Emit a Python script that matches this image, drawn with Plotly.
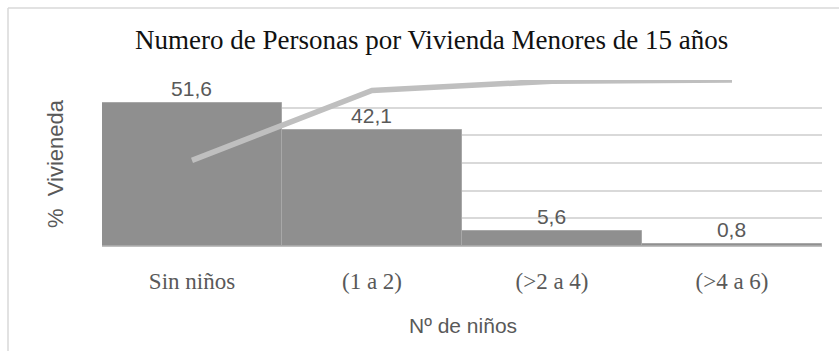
import plotly.graph_objects as go

# Households by number of children under 15
categories = ["Sin niños", "(1 a 2)", "(>2 a 4)", "(>4 a 6)"]
pct_viviendas = [51.6, 42.1, 5.6, 0.8]
pct_acumulado = [51.6, 93.7, 99.3, 100.0]

W, H = 839, 351
L, R, T, B = 102, 17, 80, 105
PW, PH = W - L - R, H - T - B


def px_x(x):
    return (x - L) / PW


def px_y(y):
    return (H - B - y) / PH


fig = go.Figure()

fig.add_trace(go.Bar(
    x=categories,
    y=pct_viviendas,
    marker=dict(color="#8f8f8f", line=dict(color="#a8a8a8", width=1)),
    texttemplate="%{y:.1f}",
    textposition="outside",
    textfont=dict(family="Liberation Sans", size=21, color="#595959"),
    cliponaxis=False,
    showlegend=False,
))

fig.add_trace(go.Scatter(
    x=categories,
    y=pct_acumulado,
    mode="lines",
    line=dict(color="#bfbfbf", width=5.5),
    yaxis="y2",
    showlegend=False,
))

fig.update_layout(
    width=W, height=H,
    margin=dict(l=L, r=R, t=T, b=B),
    paper_bgcolor="white", plot_bgcolor="white",
    separators=",.",
    bargap=0,
    xaxis=dict(
        showgrid=False, showline=False, zeroline=False,
        ticks="outside", ticklen=14, tickcolor="rgba(0,0,0,0)",
        tickfont=dict(family="Liberation Serif", size=23, color="#595959"),
    ),
    yaxis=dict(
        range=[0, 60], dtick=10,
        showgrid=True, gridcolor="#d9d9d9", gridwidth=1.5,
        zeroline=True, zerolinecolor="#bfbfbf", zerolinewidth=1.5,
        showticklabels=False, showline=False,
    ),
    yaxis2=dict(
        range=[0, 100], overlaying="y", side="right",
        visible=False, showgrid=False, zeroline=False,
    ),
    annotations=[
        dict(text="Numero de Personas por Vivienda Menores de 15 años",
             xref="paper", yref="paper", x=px_x(431), y=px_y(40),
             xanchor="center", yanchor="middle", showarrow=False,
             font=dict(family="Liberation Serif", size=27, color="#111111")),
        dict(text="%  Vivieneda",
             xref="paper", yref="paper", x=px_x(55), y=px_y(164),
             xanchor="center", yanchor="middle", showarrow=False, textangle=-90,
             font=dict(family="Liberation Sans", size=22, color="#595959")),
        dict(text="Nº de niños",
             xref="paper", yref="paper", x=px_x(463), y=px_y(325),
             xanchor="center", yanchor="middle", showarrow=False,
             font=dict(family="Liberation Sans", size=21, color="#595959")),
    ],
    shapes=[
        dict(type="line", xref="paper", yref="paper",
             x0=px_x(8), x1=px_x(W + 5), y0=px_y(8), y1=px_y(8),
             line=dict(color="#d9d9d9", width=1.5)),
        dict(type="line", xref="paper", yref="paper",
             x0=px_x(8), x1=px_x(8), y0=px_y(8), y1=px_y(H + 5),
             line=dict(color="#d9d9d9", width=1.5)),
    ],
)

fig.write_html("out.html")
